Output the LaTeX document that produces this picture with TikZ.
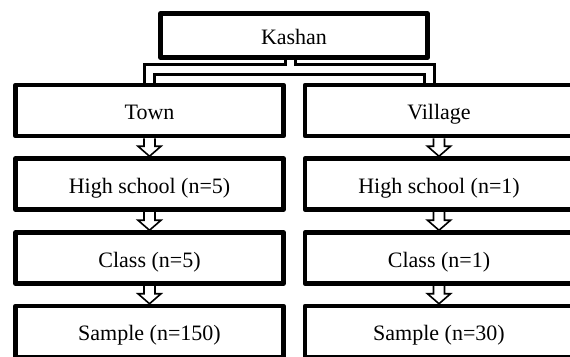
\documentclass[tikz,border=0pt]{standalone}
\usepackage{fontspec}
\setmainfont{Liberation Serif}
\usetikzlibrary{calc}
\tikzset{
  box/.style={draw, line width=4.5pt, line join=round, minimum width=268pt, minimum height=51pt, inner sep=0pt, text height=20pt, text depth=2pt, font=\fontsize{22}{26}\selectfont},
  pipe/.style={double, double distance=7pt, line width=3pt},
  hollow/.style={line width=1.6pt, line join=miter,
    to path={($(\tikztostart)+(-5.5pt,0pt)$) -- ($(\tikztotarget)+(-5.5pt,10pt)$) -- ($(\tikztotarget)+(-11.5pt,10pt)$) -- (\tikztotarget) -- ($(\tikztotarget)+(11.5pt,10pt)$) -- ($(\tikztotarget)+(5.5pt,10pt)$) -- ($(\tikztostart)+(5.5pt,0pt)$)}}
}

\begin{document}
\begin{tikzpicture}[x=1pt, y=-1pt]
\useasboundingbox (0,0) rectangle (570,356);
\node[box, minimum width=267pt, minimum height=44pt] (kashan) at (294,35.5) {Kashan};
\node[box] (town) at (149.5,110.5) {Town};
\node[box] (village) at (439,110.5) {Village};
\node[box] (hstown) at (149.5,184) {High school (n=5)};
\node[box] (hsvillage) at (439,184) {High school (n=1)};
\node[box] (cltown) at (149.5,258) {Class (n=5)};
\node[box] (clvillage) at (439,258) {Class (n=1)};
\node[box] (smtown) at (149.5,331.5) {Sample (n=150)};
\node[box] (smvillage) at (439,331.5) {Sample (n=30)};

\coordinate (fork) at (290.5,69.5);
\draw[pipe] ($(kashan.south)+(-3.5,0)$) -- (fork) -| (town.north)
  (fork) -| ($(village.north)+(-9.5,0)$);

\draw[hollow] (town.south) to (hstown.north);
\draw[hollow] (hstown.south) to (cltown.north);
\draw[hollow] (cltown.south) to (smtown.north);
\draw[hollow] (village.south) to (hsvillage.north);
\draw[hollow] (hsvillage.south) to (clvillage.north);
\draw[hollow] (clvillage.south) to (smvillage.north);
\end{tikzpicture}
\end{document}
